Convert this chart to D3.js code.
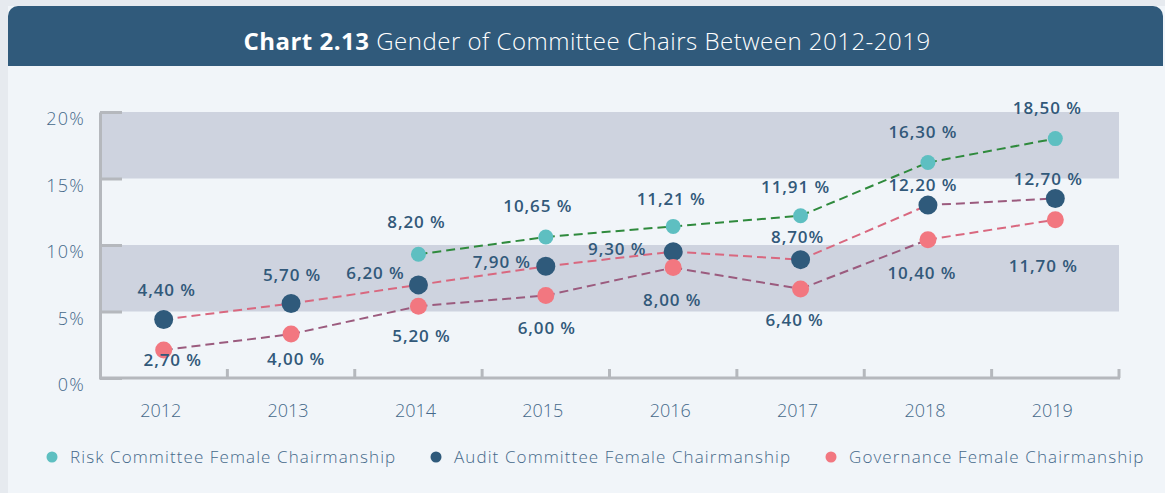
<!DOCTYPE html>
<html lang="en">
<head>
<meta charset="UTF-8">
<title>Gender of Committee Chairs Between 2012-2019</title>
<script src="https://d3js.org/d3.v7.min.js"></script>
<style>
    body { margin: 0; background: #e6eaef; }
    svg { display: block; }
    .tick-label { font-family: "Open Sans", sans-serif; font-weight: 300; fill: #45698a; }
    .pt-label { font-family: "Open Sans", sans-serif; font-weight: 600; font-size: 17px; fill: #32597a; letter-spacing: 0.9px; }
    .legend text { font-family: "Open Sans", sans-serif; font-weight: 300; font-size: 17px; fill: #45698a; letter-spacing: 1.1px; }
</style>
</head>
<body>
<svg id="chart"></svg>
<script>
// data
const years = ["2012", "2013", "2014", "2015", "2016", "2017", "2018", "2019"];
const riskValues = [null, null, 9.3, 10.6, 11.4, 12.2, 16.2, 18.0];
const auditValues = [4.4, 5.6, 7.0, 8.4, 9.5, 8.9, 13.0, 13.5];
const govValues = [2.1, 3.3, 5.4, 6.2, 8.3, 6.7, 10.4, 11.9];
const riskLabels = [null, null, "8,20 %", "10,65 %", "11,21 %", "11,91 %", "16,30 %", "18,50 %"];
const auditLabels = ["4,40 %", "5,70 %", "6,20 %", "7,90 %", "9,30 %", "8,70%", "12,20 %", "12,70 %"];
const govLabels = ["2,70 %", "4,00 %", "5,20 %", "6,00 %", "8,00 %", "6,40 %", "10,40 %", "11,70 %"];
const yTicks = [0, 5, 10, 15, 20];
const shadedBands = [[15, 20], [5, 10]];

// label nudges (layout only)
const riskOffsets = [null, null, [-2, -26], [-8, -25], [-2, -21], [-5, -23], [-5, -25], [-8, -25]];
const auditOffsets = [[3, -23], [1, -23], [-43, -6], [-44, 2], [-56, 3], [-3, -17], [-5, -14], [-7, -13]];
const govOffsets = [[9, 16], [5, 31], [3, 36], [1, 38], [-1, 38], [-6, 37], [-6, 39], [-12, 52]];

const W = 1165, H = 493;
const svg = d3.select("#chart").attr("width", W).attr("height", H);

// card + header
svg.append("rect").attr("x", 8).attr("y", 6).attr("width", W - 8).attr("height", H - 6).attr("fill", "#f1f5f9");
svg.append("rect").attr("x", 8).attr("y", 6).attr("width", W - 10).attr("height", 60).attr("rx", 10).attr("fill", "#305a7b");
svg.append("rect").attr("x", 8).attr("y", 40).attr("width", W - 10).attr("height", 26).attr("fill", "#305a7b");

const title = svg.append("text")
    .attr("x", 587).attr("y", 50)
    .attr("text-anchor", "middle")
    .style("font-family", "'Open Sans', sans-serif")
    .style("font-size", "24px")
    .style("letter-spacing", "0.5px")
    .style("fill", "#ffffff");
title.append("tspan").style("font-weight", 700).text("Chart 2.13");
title.append("tspan").style("font-weight", 300).text(" Gender of Committee Chairs Between 2012-2019");

const x = d3.scaleBand().domain(years).range([100, 1119]);
const y = d3.scaleLinear().domain([0, 20]).range([378, 112]);
const cx = d => x(d) + x.bandwidth() / 2;

// shaded bands
svg.selectAll(".band").data(shadedBands).enter().append("rect")
    .attr("x", 100).attr("width", 1119 - 100)
    .attr("y", d => y(d[1])).attr("height", d => y(d[0]) - y(d[1]))
    .attr("fill", "#ced3df");

// y axis
const yAxis = svg.append("g").attr("transform", "translate(100,0)")
    .call(d3.axisLeft(y).tickValues(yTicks).tickSize(-22).tickSizeOuter(0).tickPadding(15).tickFormat(d => d + "%"));
yAxis.select(".domain").attr("stroke", "#b5b8bd").attr("stroke-width", 3);
yAxis.selectAll(".tick line").attr("stroke", "#b5b8bd").attr("stroke-width", 3);
yAxis.selectAll(".tick text").attr("class", "tick-label").attr("dy", "0.7em")
    .style("font-size", "18px").style("letter-spacing", "1.2px");

// x axis
const xAxis = svg.append("g").attr("transform", `translate(0,${y(0)})`)
    .call(d3.axisBottom(x).tickSize(0).tickPadding(26));
xAxis.select(".domain").remove();
xAxis.selectAll(".tick text").attr("class", "tick-label").attr("dx", -3).style("font-size", "18px");
svg.append("line").attr("x1", 99).attr("x2", 1120).attr("y1", y(0)).attr("y2", y(0))
    .attr("stroke", "#b5b8bd").attr("stroke-width", 3);
svg.selectAll(".xtick").data(years).enter().append("line")
    .attr("x1", d => x(d) + x.bandwidth()).attr("x2", d => x(d) + x.bandwidth())
    .attr("y1", y(0)).attr("y2", y(0) - 9)
    .attr("stroke", "#b5b8bd").attr("stroke-width", 3);

// dashed lines, one segment at a time (colours swap on the last audit/governance segment)
const PINK = "#d9687f", PURPLE = "#9b5b7e", GREEN = "#2f8a3d";
function drawSegments(values, colorFor) {
    for (let i = 0; i < values.length - 1; i++) {
        if (values[i] == null || values[i + 1] == null) continue;
        svg.append("line")
            .attr("x1", cx(years[i])).attr("y1", y(values[i]))
            .attr("x2", cx(years[i + 1])).attr("y2", y(values[i + 1]))
            .attr("stroke", colorFor(i)).attr("stroke-width", 2)
            .attr("stroke-dasharray", "9,5");
    }
}
drawSegments(riskValues, () => GREEN);
drawSegments(auditValues, i => i < 6 ? PINK : PURPLE);
drawSegments(govValues, i => i < 6 ? PURPLE : PINK);

const series = [
    { values: riskValues, labels: riskLabels, offsets: riskOffsets, color: "#5ebfc1", r: 7.5 },
    { values: auditValues, labels: auditLabels, offsets: auditOffsets, color: "#2f5a7b", r: 9.5 },
    { values: govValues, labels: govLabels, offsets: govOffsets, color: "#f27780", r: 8.5 }
];

const pointsOf = s => years.map((yr, i) => ({ yr, v: s.values[i], lab: s.labels[i], off: s.offsets[i] }))
    .filter(d => d.v != null);

series.forEach(s => {
    svg.selectAll(null).data(pointsOf(s)).enter().append("circle")
        .attr("cx", d => cx(d.yr)).attr("cy", d => y(d.v))
        .attr("r", s.r).attr("fill", s.color);
});
series.forEach(s => {
    svg.selectAll(null).data(pointsOf(s)).enter().append("text")
        .attr("class", "pt-label")
        .attr("text-anchor", "middle")
        .attr("x", d => cx(d.yr) + d.off[0])
        .attr("y", d => y(d.v) + d.off[1])
        .text(d => d.lab);
});

// legend
const legendItems = [
    { name: "Risk Committee Female Chairmanship", color: "#5ebfc1", x: 52 },
    { name: "Audit Committee Female Chairmanship", color: "#2f5a7b", x: 436 },
    { name: "Governance Female Chairmanship", color: "#f27780", x: 831 }
];
const lg = svg.append("g").attr("class", "legend").selectAll("g").data(legendItems).enter().append("g")
    .attr("transform", d => `translate(${d.x},457)`);
lg.append("circle").attr("r", 5.5).attr("fill", d => d.color);
lg.append("text").attr("x", 18).attr("y", 6).text(d => d.name);
</script>
</body>
</html>
